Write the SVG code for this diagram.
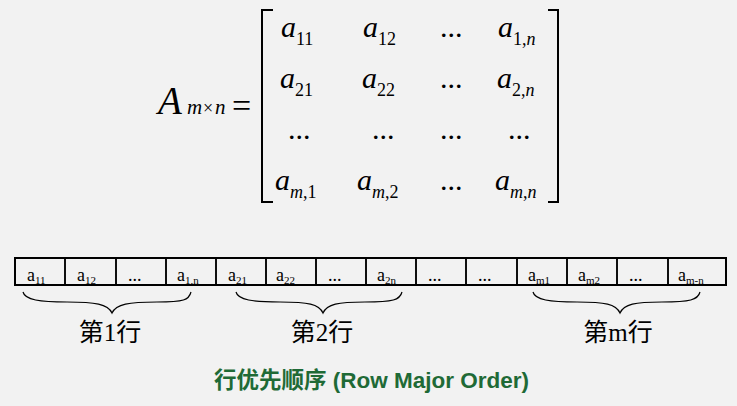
<svg xmlns="http://www.w3.org/2000/svg" width="737" height="406" viewBox="0 0 737 406">
<style>
  .bg { fill: #f2f2f2; }
  .m { font-family: "Liberation Serif", "Times New Roman", serif; fill: #000; }
  .mi { font-style: italic; }
  .big { font-size: 30px; }
  .sub { font-size: 18px; }
  .brk { fill: none; stroke: #000; stroke-width: 2; }
  .cell rect { fill: none; stroke: #000; stroke-width: 1.5; }
  .ct { font-family: "Liberation Serif", "Times New Roman", serif; font-size: 18px; fill: #000; }
  .cs { font-size: 11px; }
  .brace { fill: none; stroke: #000; stroke-width: 1.2; }
  .lbl { font-family: "Liberation Serif", "Noto Sans CJK SC", serif; font-size: 25px; fill: #000; text-anchor: middle; }
  .title { font-family: "Liberation Sans", Arial, "Noto Sans CJK SC", sans-serif; font-weight: bold; font-size: 22.5px; fill: #1f6a36; }
</style>
<rect class="bg" x="0" y="0" width="737" height="406"/>

<g id="matrix-name">
  <text class="m mi" x="158" y="114" font-size="39">A</text>
  <text class="m" x="187" y="114" font-size="21"><tspan class="mi">m</tspan><tspan x="203" font-size="18">×</tspan><tspan class="mi" x="215">n</tspan></text>
  <text class="m" x="232" y="117" font-size="34">=</text>
</g>

<g id="matrix">
  <path class="brk" d="M273,10 H262 V202 H273"/>
  <path class="brk" d="M548,10 H558 V202 H548"/>
  <!-- row 1 -->
  <text class="m big" x="281" y="37"><tspan class="mi">a</tspan><tspan class="sub" dy="8">11</tspan></text>
  <text class="m big" x="363" y="37"><tspan class="mi">a</tspan><tspan class="sub" dy="8">12</tspan></text>
  <text class="m big" x="440" y="37">...</text>
  <text class="m big" x="498" y="37"><tspan class="mi">a</tspan><tspan class="sub" dy="8">1,</tspan><tspan class="sub mi">n</tspan></text>
  <!-- row 2 -->
  <text class="m big" x="280" y="88"><tspan class="mi">a</tspan><tspan class="sub" dy="8">21</tspan></text>
  <text class="m big" x="362" y="88"><tspan class="mi">a</tspan><tspan class="sub" dy="8">22</tspan></text>
  <text class="m big" x="440" y="88">...</text>
  <text class="m big" x="497" y="88"><tspan class="mi">a</tspan><tspan class="sub" dy="8">2,</tspan><tspan class="sub mi">n</tspan></text>
  <!-- row 3 -->
  <text class="m big" x="288" y="139">...</text>
  <text class="m big" x="372" y="139">...</text>
  <text class="m big" x="440" y="139">...</text>
  <text class="m big" x="508" y="139">...</text>
  <!-- row 4 -->
  <text class="m big" x="275" y="190"><tspan class="mi">a</tspan><tspan class="sub mi" dy="8">m</tspan><tspan class="sub">,1</tspan></text>
  <text class="m big" x="357" y="190"><tspan class="mi">a</tspan><tspan class="sub mi" dy="8">m</tspan><tspan class="sub">,2</tspan></text>
  <text class="m big" x="440" y="190">...</text>
  <text class="m big" x="495" y="190"><tspan class="mi">a</tspan><tspan class="sub mi" dy="8">m</tspan><tspan class="sub">,</tspan><tspan class="sub mi">n</tspan></text>
</g>

<g id="array">
  <rect x="15" y="258" width="711" height="27" fill="none" stroke="#000" stroke-width="2"/>
  <g class="cell" id="c1"><rect x="15" y="258" width="50" height="27"/><text class="ct" x="27" y="281">a<tspan class="cs" dy="3">11</tspan></text></g>
  <g class="cell" id="c2"><rect x="65" y="258" width="51" height="27"/><text class="ct" x="77" y="281">a<tspan class="cs" dy="3">12</tspan></text></g>
  <g class="cell" id="c3"><rect x="116" y="258" width="50" height="27"/><text class="ct" x="128" y="281">...</text></g>
  <g class="cell" id="c4"><rect x="166" y="258" width="50" height="27"/><text class="ct" x="177" y="281">a<tspan class="cs" dy="3">1,n</tspan></text></g>
  <g class="cell" id="c5"><rect x="216" y="258" width="50" height="27"/><text class="ct" x="228" y="281">a<tspan class="cs" dy="3">21</tspan></text></g>
  <g class="cell" id="c6"><rect x="266" y="258" width="50" height="27"/><text class="ct" x="276" y="281">a<tspan class="cs" dy="3">22</tspan></text></g>
  <g class="cell" id="c7"><rect x="316" y="258" width="50" height="27"/><text class="ct" x="328" y="281">...</text></g>
  <g class="cell" id="c8"><rect x="366" y="258" width="50" height="27"/><text class="ct" x="377" y="281">a<tspan class="cs" dy="3">2n</tspan></text></g>
  <g class="cell" id="c9"><rect x="416" y="258" width="50" height="27"/><text class="ct" x="428" y="281">...</text></g>
  <g class="cell" id="c10"><rect x="466" y="258" width="51" height="27"/><text class="ct" x="478" y="281">...</text></g>
  <g class="cell" id="c11"><rect x="517" y="258" width="50" height="27"/><text class="ct" x="528" y="281">a<tspan class="cs" dy="3">m1</tspan></text></g>
  <g class="cell" id="c12"><rect x="567" y="258" width="50" height="27"/><text class="ct" x="578" y="281">a<tspan class="cs" dy="3">m2</tspan></text></g>
  <g class="cell" id="c13"><rect x="617" y="258" width="51" height="27"/><text class="ct" x="629" y="281">...</text></g>
  <g class="cell" id="c14"><rect x="668" y="258" width="58" height="27"/><text class="ct" x="678" y="281">a<tspan class="cs" dy="3">m-n</tspan></text></g>
</g>

<g id="connectors">
  <path class="brace" d="M23,292 C25,300 40,302 67,302 C95,302 108,304 112,313 C116,304 129,302 157,302 C184,302 189,300 191,292"/>
  <path class="brace" d="M236,292 C238,300 253,302 280,302 C308,302 319,304 323,313 C327,304 338,302 365,302 C393,302 400,300 402,292"/>
  <path class="brace" d="M533,292 C535,300 550,302 577,302 C605,302 616,304 620,313 C624,304 635,302 662,302 C690,302 698,300 700,292"/>
</g>

<g id="labels">
  <text class="lbl" x="110" y="341">第1行</text>
  <text class="lbl" x="322" y="341">第2行</text>
  <text class="lbl" x="618" y="341">第m行</text>
</g>

<g id="title">
  <text class="title" x="214" y="388">行优先顺序 (Row Major Order)</text>
</g>
</svg>
